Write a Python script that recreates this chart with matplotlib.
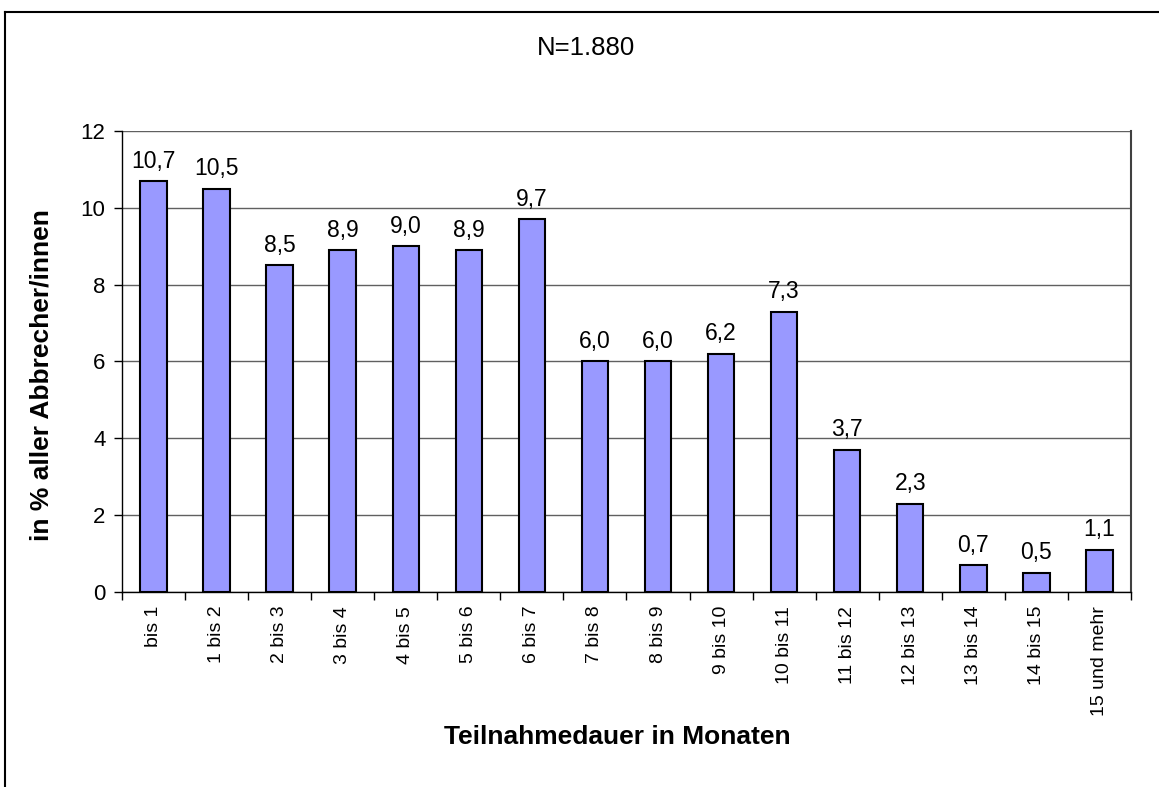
import numpy as np
import matplotlib.pyplot as plt
from matplotlib.lines import Line2D

plt.rcParams['font.family'] = ['Liberation Sans', 'DejaVu Sans']

categories = ['bis 1', '1 bis 2', '2 bis 3', '3 bis 4', '4 bis 5', '5 bis 6',
              '6 bis 7', '7 bis 8', '8 bis 9', '9 bis 10', '10 bis 11',
              '11 bis 12', '12 bis 13', '13 bis 14', '14 bis 15', '15 und mehr']
values = [10.7, 10.5, 8.5, 8.9, 9.0, 8.9, 9.7, 6.0, 6.0, 6.2, 7.3,
          3.7, 2.3, 0.7, 0.5, 1.1]
yticks = [0, 2, 4, 6, 8, 10, 12]

fig = plt.figure(figsize=(11.59, 7.87), dpi=100)
ax = fig.add_axes([0.1053, 0.2478, 0.9758 - 0.1053, 0.8336 - 0.2478])

x = np.arange(len(categories))
ax.bar(x, values, width=0.42, color='#9999FF', edgecolor='black',
       linewidth=1.5, zorder=3)

for xi, v in zip(x, values):
    ax.annotate(f'{v:.1f}'.replace('.', ','), (xi, v), xytext=(0, 6),
                textcoords='offset points', ha='center', va='bottom',
                fontsize=16.5)

ax.set_xlim(-0.5, len(categories) - 0.5)
ax.set_ylim(0, 12)
ax.set_yticks(yticks)
ax.set_yticklabels([str(t) for t in yticks], fontsize=16)
ax.yaxis.grid(True, color='#606060', linewidth=1)
ax.set_axisbelow(True)

ax.set_xticks(x)
ax.set_xticklabels(categories, rotation=90, fontsize=14, va='top')
ax.tick_params(axis='x', length=0, pad=10)
ax.set_xticks(np.arange(len(categories) + 1) - 0.5, minor=True)
ax.tick_params(axis='x', which='minor', length=6, width=1, color='black')
ax.tick_params(axis='y', length=6, width=1, direction='out', pad=6)

ax.spines['top'].set_visible(False)
ax.spines['right'].set_color('#404040')
ax.spines['right'].set_linewidth(1.5)
for s in ['left', 'bottom']:
    ax.spines[s].set_color('black')
    ax.spines[s].set_linewidth(1)

ax.set_ylabel('in % aller Abbrecher/innen', fontsize=19, fontweight='bold',
              va='center')
ax.yaxis.set_label_coords(-0.080, 0.47)
fig.text(0.533, 1 - 737 / 787, 'Teilnahmedauer in Monaten', ha='center',
         va='center', fontsize=19, fontweight='bold')
fig.text(0.506, 1 - 48 / 787, 'N=1.880', ha='center', va='center',
         fontsize=18.5)

# outer frame (only top and left visible in the reference)
fig.add_artist(Line2D([5 / 1159, 5 / 1159], [0, 1 - 12 / 787],
                      color='black', linewidth=1.5))
fig.add_artist(Line2D([5 / 1159, 1], [1 - 12 / 787, 1 - 12 / 787],
                      color='black', linewidth=1.5))

fig.savefig('out.png', dpi=100)
